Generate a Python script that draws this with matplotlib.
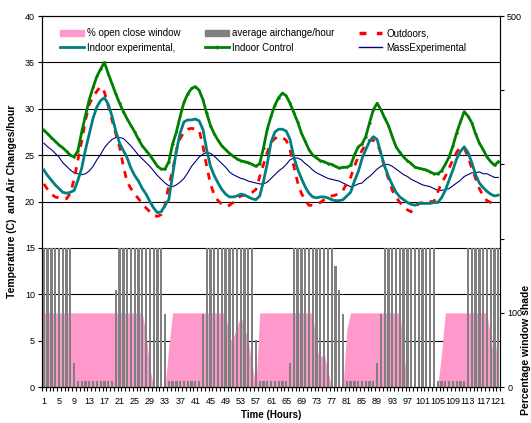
"""
Window opening, air changes and temperatures over 121 hours.
"""

import matplotlib
matplotlib.use("Agg")
import matplotlib.pyplot as plt
from matplotlib.patches import Patch
from matplotlib.lines import Line2D
import numpy as np

plt.rcParams['font.family'] = ['Liberation Sans', 'DejaVu Sans']

hours = np.arange(1, 122)

# % open close window (right axis, 0-500)
open_window = ([100] * 27 + [70, 25, 0, 0, 0, 0, 55] + [100] * 15
               + [62, 66, 82, 95, 80, 61, 30, 0] + [100] * 15
               + [50, 40, 45, 22, 0, 0, 0, 0, 78] + [100] * 14
               + [50, 0, 0, 0, 0, 0, 0, 0, 0, 0, 45] + [100] * 12
               + [65, 35, 85])

# average airchange/hour (left axis)
airchange = ([15] * 8 + [2.6] + [0.7] * 10 + [10.5] + [15] * 12 + [7.9]
             + [0.7] * 9 + [7.9] + [15] * 13 + [5.1] + [0.7] * 8 + [2.6]
             + [15] * 11 + [13.0, 10.5, 7.9] + [0.7] * 8 + [2.6, 7.9]
             + [15] * 14 + [0.7] * 8 + [15] * 9)

outdoors = [21.9, 21.3, 20.8, 20.5, 20.4, 20.3, 20.3, 20.9, 22.4, 24.5,
            26.5, 28.8, 30.5, 31.3, 31.9, 32.4, 31.8, 30.3, 28.8, 27.3,
            25.9, 23.8, 22.1, 21.4, 20.8, 20.3, 19.8, 19.3, 18.9, 18.5,
            18.4, 18.6, 19.6, 21.8, 23.3, 25.5, 26.8, 27.5, 27.8, 27.9,
            27.8, 27.7, 26.0, 23.8, 21.9, 20.7, 20.1, 19.7, 19.5, 19.6,
            19.9, 20.3, 20.6, 20.7, 20.9, 21.0, 21.3, 22.7, 24.0, 25.3,
            26.4, 26.8, 27.0, 26.9, 26.6, 25.6, 23.8, 22.1, 20.9, 20.1,
            19.6, 19.6, 19.7, 19.9, 20.2, 20.5, 20.6, 20.7, 20.9, 21.2,
            22.0, 22.6, 23.8, 24.8, 25.5, 26.2, 26.6, 26.6, 26.3, 25.2,
            23.6, 22.5, 21.2, 20.5, 19.9, 19.5, 19.1, 18.9, 19.3, 19.8,
            19.9, 20.0, 20.0, 20.0, 21.0, 22.0, 22.7, 23.6, 24.5, 25.3,
            25.9, 25.8, 24.8, 23.6, 22.5, 21.4, 20.6, 20.1, 19.9, 19.8,
            19.8]

indoor_exp = [23.4, 22.8, 22.3, 21.8, 21.4, 21.0, 20.9, 21.0, 21.2, 22.3,
              23.6, 25.6, 27.3, 29.0, 30.2, 30.9, 31.2, 30.5, 29.2, 27.6,
              26.3, 25.5, 24.7, 23.6, 22.8, 22.2, 21.4, 20.8, 20.0, 19.3,
              18.8, 18.9, 19.6, 20.2, 22.9, 25.5, 27.4, 28.6, 28.8, 28.8,
              28.9, 28.7, 27.8, 25.6, 23.8, 22.8, 22.0, 21.3, 20.8, 20.5,
              20.5, 20.6, 20.8, 20.7, 20.5, 20.3, 20.2, 20.6, 22.2, 24.1,
              26.4, 27.5, 27.8, 27.8, 27.6, 26.7, 24.8, 23.5, 22.5, 21.6,
              20.9, 20.5, 20.4, 20.5, 20.5, 20.4, 20.2, 20.1, 20.1, 20.2,
              20.6, 21.0, 22.2, 23.2, 24.6, 25.6, 26.5, 27.0, 26.7, 25.2,
              23.8, 22.7, 21.8, 21.0, 20.5, 20.2, 19.9, 19.7, 19.6, 19.8,
              19.8, 19.8, 19.8, 19.9, 19.9, 20.4, 21.2, 22.3, 23.4, 24.6,
              25.4, 25.9, 25.3, 24.2, 22.9, 22.0, 21.5, 21.1, 20.8, 20.6,
              20.7]

indoor_control = [27.7, 27.3, 26.9, 26.5, 26.1, 25.8, 25.4, 25.0, 24.8, 25.5,
                  27.5, 29.3, 31.0, 32.3, 33.5, 34.3, 35.0, 33.8, 32.7, 31.6,
                  30.6, 29.7, 28.9, 28.2, 27.5, 26.7, 26.0, 25.5, 25.0, 24.4,
                  23.8, 23.5, 23.5, 24.3, 26.2, 27.5, 29.2, 30.7, 31.6, 32.2,
                  32.4, 32.0, 31.0, 29.5, 28.2, 27.3, 26.6, 26.0, 25.6, 25.2,
                  24.9, 24.6, 24.4, 24.3, 24.2, 24.0, 23.8, 24.1, 25.8, 27.8,
                  29.2, 30.4, 31.2, 31.7, 31.4, 30.6, 29.6, 28.6, 27.4, 26.5,
                  25.6, 25.0, 24.7, 24.4, 24.3, 24.1, 24.0, 23.8, 23.6, 23.7,
                  23.7, 23.9, 25.0, 25.9, 26.2, 27.0, 28.5, 29.9, 30.6, 29.9,
                  29.0, 28.2, 27.0, 25.9, 25.3, 24.8, 24.4, 24.1, 23.7, 23.6,
                  23.5, 23.4, 23.2, 23.0, 23.0, 23.3, 24.0, 24.8, 26.0, 27.4,
                  28.6, 29.7, 29.2, 28.5, 27.3, 26.3, 25.6, 24.8, 24.3, 23.9,
                  24.3]

mass_exp = [26.3, 25.9, 25.6, 25.2, 24.8, 24.2, 23.8, 23.4, 23.1, 23.0,
            22.9, 23.0, 23.3, 23.8, 24.5, 25.1, 25.8, 26.3, 26.7, 26.9,
            26.9, 26.8, 26.4, 26.0, 25.5, 25.0, 24.6, 24.2, 23.8, 23.3,
            22.8, 22.4, 22.0, 21.7, 21.6, 21.8, 22.1, 22.5, 23.1, 23.8,
            24.3, 24.8, 25.1, 25.3, 25.2, 24.9, 24.5, 24.1, 23.7, 23.2,
            22.9, 22.7, 22.5, 22.4, 22.2, 22.1, 22.0, 21.9, 21.9, 22.1,
            22.5, 22.9, 23.3, 23.6, 24.0, 24.5, 24.7, 24.7, 24.5, 24.1,
            23.8, 23.4, 23.1, 22.9, 22.7, 22.5, 22.4, 22.3, 22.2, 22.0,
            21.8, 21.6, 21.7, 21.9, 22.0, 22.4, 22.7, 23.1, 23.5, 23.8,
            24.0, 24.0, 23.8, 23.5, 23.2, 22.9, 22.7, 22.4, 22.2, 22.0,
            21.8, 21.7, 21.6, 21.4, 21.2, 21.2, 21.3, 21.4, 21.7, 22.0,
            22.3, 22.7, 22.9, 23.1, 23.1, 23.2, 23.0, 23.0, 22.8, 22.6,
            22.6]

x_labels = [str(h) for h in range(1, 122, 4)]

fig = plt.figure(figsize=(5.31, 4.23), dpi=100)
ax = fig.add_axes([0.079, 0.085, 0.863, 0.877])
ax2 = ax.twinx()
# left axis (bars, lines) drawn above the pink area on the right axis
ax.set_zorder(ax2.get_zorder() + 1)
ax.patch.set_visible(False)

ax2.fill_between(hours, open_window, color='#FF99CC', lw=0, zorder=2)
ax2.set_ylim(0, 500)
ax2.set_yticks(range(0, 501, 100))
ax2.set_yticklabels(['0', '100', '', '', '', '500'])
# horizontal grid at every 5 units of the left axis, kept under the pink
ax2.set_yticks(np.linspace(0, 500, 9), minor=True)
ax2.grid(which='minor', axis='y', color='black', lw=0.8, zorder=0)
ax2.tick_params(axis='y', which='minor', length=0)
ax2.tick_params(axis='y', which='major', labelsize=6.5, length=3, width=0.8, pad=2)

ax.bar(hours, airchange, width=0.6, color='#808080', zorder=2)
ax.plot(hours, mass_exp, color='#000080', lw=0.8, zorder=3)
ax.plot(hours, outdoors, color='#FF0000', lw=2, dashes=(2.5, 2.5), zorder=4)
ax.plot(hours, indoor_exp, color='#008080', lw=2, zorder=5)
ax.plot(hours, indoor_control, color='#008000', lw=2, marker='+', ms=2, zorder=6)

ax.set_ylim(0, 40)
ax.set_xlim(0.5, 121.5)
ax.set_yticks(range(0, 41, 5))
ax.tick_params(axis='y', labelsize=6.5, length=3, width=0.8, pad=2)
ax.set_xticks(range(1, 122, 4))
ax.set_xticklabels(x_labels, family=['Liberation Sans Narrow', 'Liberation Sans'])
ax.set_xticks(np.arange(0.5, 122, 1), minor=True)
ax.tick_params(axis='x', which='major', labelsize=6.5, length=0, pad=7)
ax.tick_params(axis='x', which='minor', length=3, width=0.8)

for a in (ax, ax2):
    for s in a.spines.values():
        s.set_linewidth(0.8)
ax2.spines['right'].set_color('#555555')

ax.set_ylabel('Temperature (C)  and Air Changes/hour', fontsize=7.5,
              fontweight='bold', labelpad=6)
ax.set_xlabel('Time (Hours)', fontsize=7, fontweight='bold', labelpad=3)
fig.text(0.99, 1 - 350 / 423, 'Percentage window shade', rotation=90,
         fontsize=7.5, fontweight='bold', ha='center', va='center')

handles = [
    Patch(color='#FF99CC'),
    Line2D([], [], color='#008080', lw=2),
    Patch(color='#808080'),
    Line2D([], [], color='#008000', lw=2, marker='+', ms=3),
    Line2D([], [], color='#FF0000', lw=2.5, dashes=(2, 3)),
    Line2D([], [], color='#000080', lw=1),
]
labels = ['% open close window', 'Indoor experimental,',
          'average airchange/hour', 'Indoor Control',
          'Outdoors,', 'MassExperimental']
ax.legend(handles, labels, ncol=3, loc='upper left', bbox_to_anchor=(0.025, 0.985),
          frameon=False, fontsize=7, handlelength=2.4, handletextpad=0.4,
          columnspacing=2.5, labelspacing=0.45, borderaxespad=0.3)

fig.savefig('out.png', dpi=100)
